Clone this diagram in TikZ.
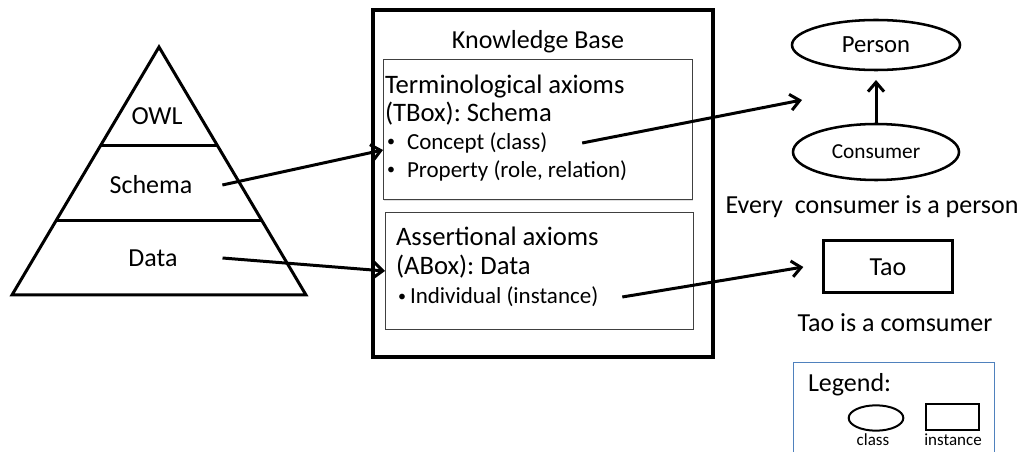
\documentclass[tikz,border=0pt]{standalone}
\usepackage{fontspec}
\setmainfont{Carlito}
\usetikzlibrary{shapes.geometric,arrows.meta,shadows}

\definecolor{legendblue}{RGB}{79,129,189}
\newcommand{\bul}[1]{\makebox[#1][l]{\raisebox{0.12em}{\fontsize{12}{12}\selectfont\textbullet}}}
\frenchspacing

\begin{document}
\begin{tikzpicture}[x=0.75pt,y=-0.75pt,
  every node/.style={inner sep=0pt, outer sep=0pt},
  big/.style={font=\fontsize{19.5}{22}\selectfont},
  boxline/.style={font=\fontsize{20}{22}\selectfont, anchor=west},
  itemline/.style={font=\fontsize{17.25}{20}\selectfont, anchor=west},
  small/.style={font=\fontsize{12.75}{14}\selectfont},
  class/.style={draw, ellipse, line width=1.9pt},
  inst/.style={draw, rectangle, line width=2.25pt},
  axbox/.style={draw=black!75, line width=0.75pt, fill=white,
    drop shadow={shadow xshift=1pt, shadow yshift=-1pt, opacity=0.25}},
  arrow/.style={line width=2.25pt, -{Straight Barb[length=7pt,width=12pt]}}]

\useasboundingbox (0,0) rectangle (1035,452);

% pyramid
\draw[line width=2.25pt, line join=miter] (159,47) -- (306,295) -- (12,295) -- cycle;
\draw[line width=2.25pt] (100.3,146) -- (217.7,146);
\draw[line width=2.25pt] (56,221) -- (262,221);
\node[big] (owl) at (157,116) {OWL};
\node[big] (schema) at (151,185) {Schema};
\node[big] (data) at (153,258) {Data};

% knowledge base
\node[draw, line width=3pt, fill=white, minimum width=255pt, minimum height=260pt,
  drop shadow={shadow xshift=1.5pt, shadow yshift=-1.5pt, opacity=0.35}] (kb) at (543,183.5) {};
\node[big] (kbtitle) at (538,42) {Knowledge Base};
\node[axbox, minimum width=231.75pt, minimum height=105pt] (tbox) at (537.5,130) {};
\node[axbox, minimum width=231pt, minimum height=87pt] (abox) at (539,271) {};

\node[boxline] (t1) at (385,87) {Terminological axioms};
\node[boxline] (t2) at (385,114) {(TBox): Schema};
\node[itemline] (t3) at (387,143) {\bul{15pt}Concept (class)};
\node[itemline] (t4) at (387,171) {\bul{15pt}Property (role, relation)};
\node[boxline] (a1) at (396,236) {Assertional axioms};
\node[boxline] (a2) at (396,267) {(ABox): Data};
\node[itemline] (a3) at (398,297) {\bul{9pt}Individual (instance)};

% classes and instance
\node[class, minimum width=126pt, minimum height=37.5pt, font=\fontsize{18.5}{20}\selectfont] (person) at (876,45) {Person};
\node[class, minimum width=124.5pt, minimum height=42pt, font=\fontsize{16}{18}\selectfont] (consumer) at (876,152) {Consumer};
\node[big] (every) at (872,207) {Every\ \ consumer is a person};
\node[inst, big, minimum width=97pt, minimum height=39pt] (tao) at (888,267) {Tao};
\node[big] (taoline) at (895,323) {Tao is a comsumer};
\coordinate (classpt) at (802,100);

% legend
\draw[legendblue, line width=0.75pt] (793,455) -- (793,362) -- (994,362) -- (994,455);
\node[big, anchor=west] (legend) at (808,385) {Legend:};
\node[class, line width=1.5pt, minimum width=41pt, minimum height=19pt] (lclass) at (876,418) {};
\node[inst, line width=1.5pt, minimum width=40pt, minimum height=19.5pt] (linst) at (952.5,417) {};
\node[small] (lclasstext) at (873,440) {class};
\node[small] (linsttext) at (953,440) {instance};

% arrows
\draw[arrow] ([xshift=22.5pt]schema.east) -- ([yshift=-15pt]tbox.west);
\draw[arrow] ([xshift=33.75pt]data.east) -- (abox.west);
\draw[arrow] ([xshift=26pt]t3.east) -- (classpt);
\draw[arrow] ([xshift=18pt]a3.east) -- ([xshift=-15pt]tao.west);
\draw[arrow, shorten >=7.5pt] (consumer.north) -- (person.south);
\end{tikzpicture}
\end{document}
